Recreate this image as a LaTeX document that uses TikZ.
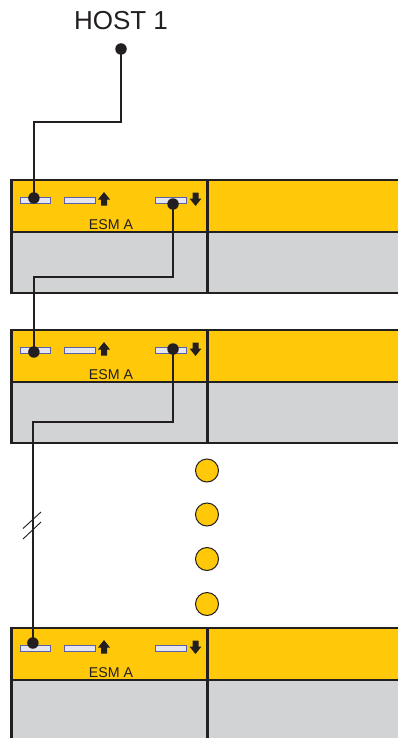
\documentclass[tikz,border=0pt]{standalone}
\usepackage{fontspec}
\setmainfont{Liberation Sans}
\definecolor{esmyellow}{HTML}{FFC90A}
\definecolor{esmgray}{HTML}{D1D3D4}
\definecolor{ink}{HTML}{231F20}
\definecolor{portblue}{HTML}{5A5FA8}
\definecolor{portfill}{HTML}{E6E7EE}
\tikzset{
  x=1pt,y=-1pt,
  panel/.style={draw=ink,line width=2.4pt},
  porthole/.style={draw=portblue,fill=portfill,line width=0.8pt},
  junction/.style={circle,fill=ink,inner sep=0pt,minimum size=11.5pt},
  wire/.style={draw=ink,line width=2pt},
  dotmark/.style={circle,draw=ink,fill=esmyellow,line width=1pt,inner sep=0pt,minimum size=23pt},
  breakmark/.style={draw=ink,line width=0.9pt},
  dirarrow/.style={fill=ink,draw=none},
  esmlabel/.style={font=\fontsize{14.2}{14.2}\selectfont,text=ink,inner sep=0pt,anchor=base},
}
\newcommand{\chassis}[2]{% top y, clip bottom y
  \fill[esmyellow] (11.5,#1) rectangle (400,#1+52);
  \fill[esmgray] (11.5,#1+52) rectangle (400,#2);
  \draw[panel] (400,#1) -- (11.5,#1) -- (11.5,#2) -- (400,#2);
  \draw[panel] (11.5,#1+52) -- (400,#1+52);
  \draw[panel] (207.5,#1) -- (207.5,#2);
  \draw[porthole] (20,#1+17) rectangle (50.5,#1+23);
  \draw[porthole] (64.5,#1+17) rectangle (95,#1+23);
  \draw[porthole] (155.5,#1+17) rectangle (186,#1+23);
  \fill[dirarrow] (104,#1+12) -- (110,#1+19.5) -- (107,#1+19.5) -- (107,#1+25.5) -- (101,#1+25.5) -- (101,#1+19.5) -- (98,#1+19.5) -- cycle;
  \fill[dirarrow] (195.5,#1+26) -- (189.5,#1+18.5) -- (192.5,#1+18.5) -- (192.5,#1+12.5) -- (198.5,#1+12.5) -- (198.5,#1+18.5) -- (201.5,#1+18.5) -- cycle;
  \node[esmlabel] at (111,#1+49) {ESM A};
}
\begin{document}
\begin{tikzpicture}
\useasboundingbox (0,0) rectangle (398,738);
\clip (0,0) rectangle (398,738);
\fill[white] (0,0) rectangle (398,738);
\chassis{180}{293}
\chassis{330}{443}
\chassis{628}{745}
\node[font=\fontsize{26}{26}\selectfont,text=ink,inner sep=0pt,anchor=base] (host) at (121,30) {HOST 1};
\node[junction] (h) at (121,49) {};
\node[junction] (a1) at (33.9,198) {};
\node[junction] (a2) at (173,204) {};
\node[junction] (b1) at (33.9,352) {};
\node[junction] (b2) at (173,349) {};
\node[junction] (c1) at (32.9,643) {};
\draw[wire] (h.center) -- (121,122) -- (33.9,122) -- (a1.center);
\draw[wire] (a2.center) -- (173,277) -- (33.9,277) -- (b1.center);
\draw[wire] (b2.center) -- (173,422) -- (32.9,422) -- (c1.center);
\draw[breakmark] (23,528.5) -- (41,512);
\draw[breakmark] (23,539) -- (41,522);
\node[dotmark] (d1) at (207,470.5) {};
\node[dotmark] (d2) at (207,514.5) {};
\node[dotmark] (d3) at (207,559) {};
\node[dotmark] (d4) at (207,604) {};
\end{tikzpicture}
\end{document}
